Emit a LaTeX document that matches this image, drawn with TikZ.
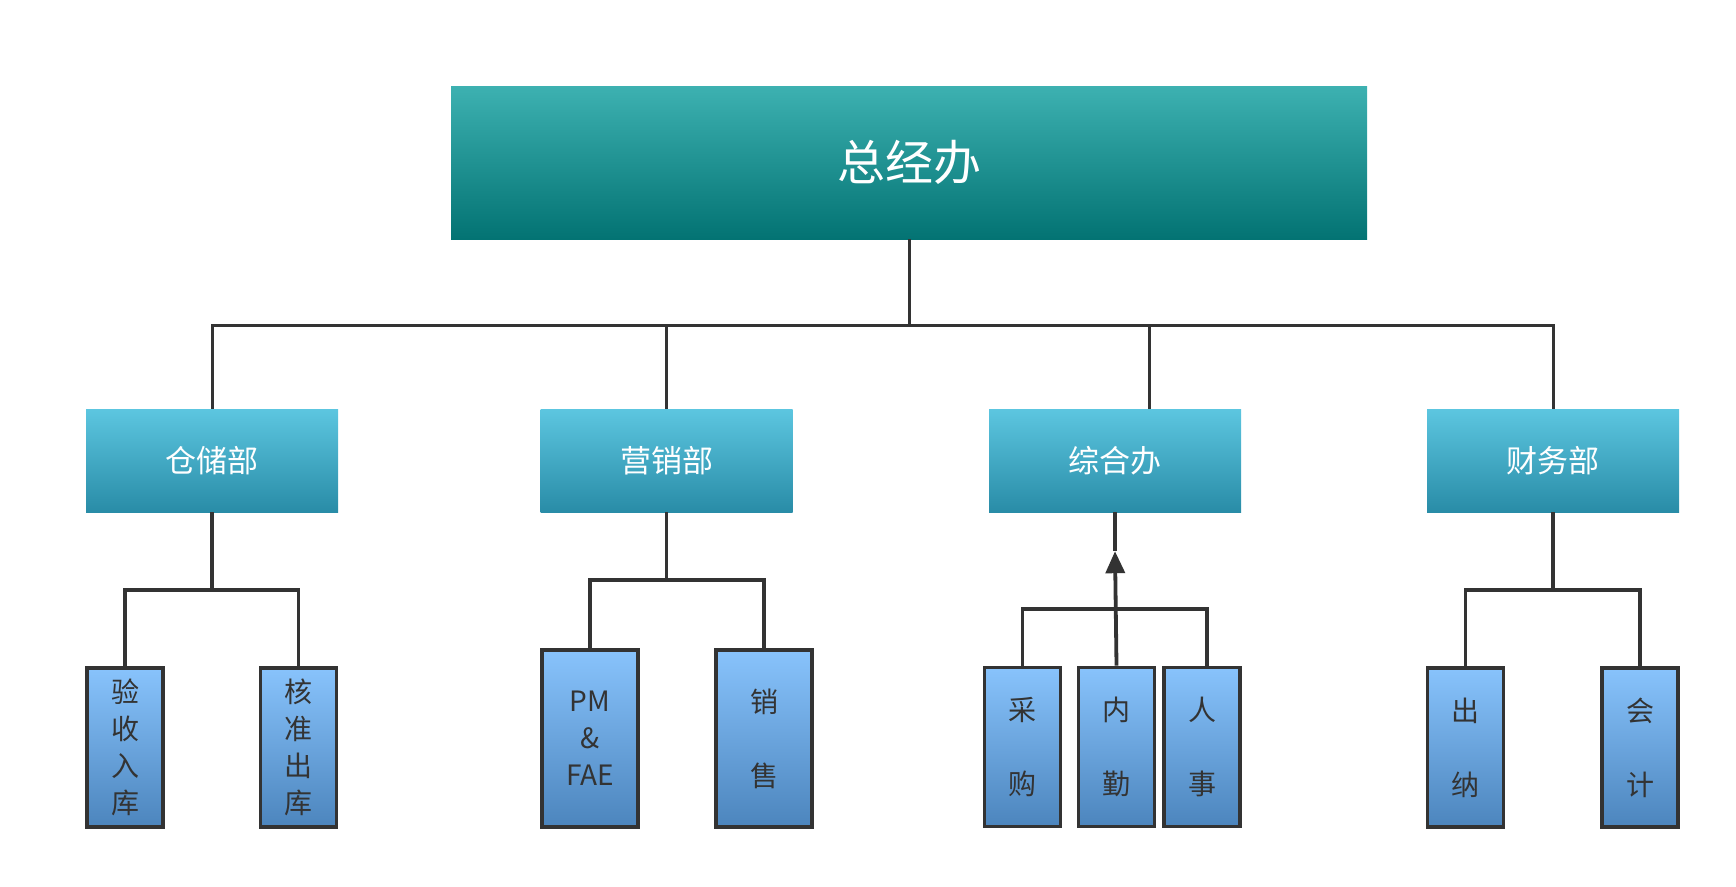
\documentclass[tikz,border=0pt]{standalone}
\usepackage{fontspec}
\newfontfamily\cjk{Noto Sans CJK SC}
\usetikzlibrary{arrows.meta}
\definecolor{lineg}{HTML}{333333}
\definecolor{headtop}{HTML}{3DB1B1}
\definecolor{headbot}{HTML}{037373}
\definecolor{depttop}{HTML}{5CC6E0}
\definecolor{deptbot}{HTML}{298CA7}
\definecolor{posttop}{HTML}{88C3FC}
\definecolor{postbot}{HTML}{4C85BD}
\tikzset{
  head/.style={top color=headtop, bottom color=headbot, text=white,
    minimum width=916pt, minimum height=153pt, inner sep=0pt,
    font=\cjk\fontsize{48}{56}\selectfont},
  dept/.style={top color=depttop, bottom color=deptbot, text=white,
    minimum width=252pt, minimum height=103pt, inner sep=0pt,
    font=\cjk\fontsize{31}{36}\selectfont},
  post/.style={top color=posttop, bottom color=postbot, text=lineg,
    draw=lineg, line width=3.6pt, align=center,
    minimum width=76pt, minimum height=159pt, inner sep=0pt,
    font=\cjk\fontsize{28}{37}\selectfont},
  tallpost/.style={post, minimum width=96pt, minimum height=177pt},
  wire/.style={draw=lineg, line width=3pt},
  subwire/.style={draw=lineg, line width=3.8pt},
}
\begin{document}
\begin{tikzpicture}[x=1pt,y=-1pt]
 \useasboundingbox (0,0) rectangle (1736,886);
 % top and departments
 \node[head] (gm) at (909,162.5) {总经办};
 \node[dept] (cc) at (212,460.5) {仓储部};
 \node[dept] (yx) at (666.5,460.5) {营销部};
 \node[dept] (zh) at (1115,460.5) {综合办};
 \node[dept] (cw) at (1553,460.5) {财务部};
 % posts
 \node[post] (ys) at (125,747.5) {验\\收\\入\\库};
 \node[post] (hz) at (298.5,747.5) {核\\准\\出\\库};
 \node[tallpost] (pf) at (590,738.5) {PM\\\&\\FAE};
 \node[tallpost] (xs) at (764,738.5) {销\\[37pt]售};
 \node[post] (cg) at (1022.5,747) {采\\[37pt]购};
 \node[post] (nq) at (1116.5,747) {内\\[37pt]勤};
 \node[post] (rs) at (1202,747) {人\\[37pt]事};
 \node[post] (cn) at (1465.5,747.5) {出\\[37pt]纳};
 \node[post] (kj) at (1640,747.5) {会\\[37pt]计};
 % first level
 \draw[wire] (gm.south) -- (909,325) coordinate (bus);
 \draw[wire] (cc.north) |- (bus) -| (cw.north);
 \draw[wire] (yx.north) -- (yx.north |- bus);
 \draw[wire] ([xshift=34pt]zh.north) -- ([xshift=34pt]zh.north |- bus);
 % second level
 \draw[subwire] (cc.south) -- ++(0,78) coordinate (b1);
 \draw[subwire] (ys.north) |- (b1) -| (hz.north);
 \draw[subwire] (yx.south) -- ++(0,68) coordinate (b2);
 \draw[subwire] (pf.north) |- (b2) -| (xs.north);
 \draw[subwire] (cw.south) -- ++(0,78) coordinate (b4);
 \draw[subwire] (cn.north) |- (b4) -| (kj.north);
 \path (nq.north) ++(0,-57) coordinate (b3);
 \path (zh.south) ++(0,39) coordinate (tip);
 \draw[subwire] (cg.north) |- (b3) -| ([xshift=5pt]rs.north);
 \draw[subwire, -{Triangle[length=22pt,width=19pt]}] (nq.north) -- (tip);
 \draw[subwire] (tip) -- (zh.south);
\end{tikzpicture}
\end{document}
